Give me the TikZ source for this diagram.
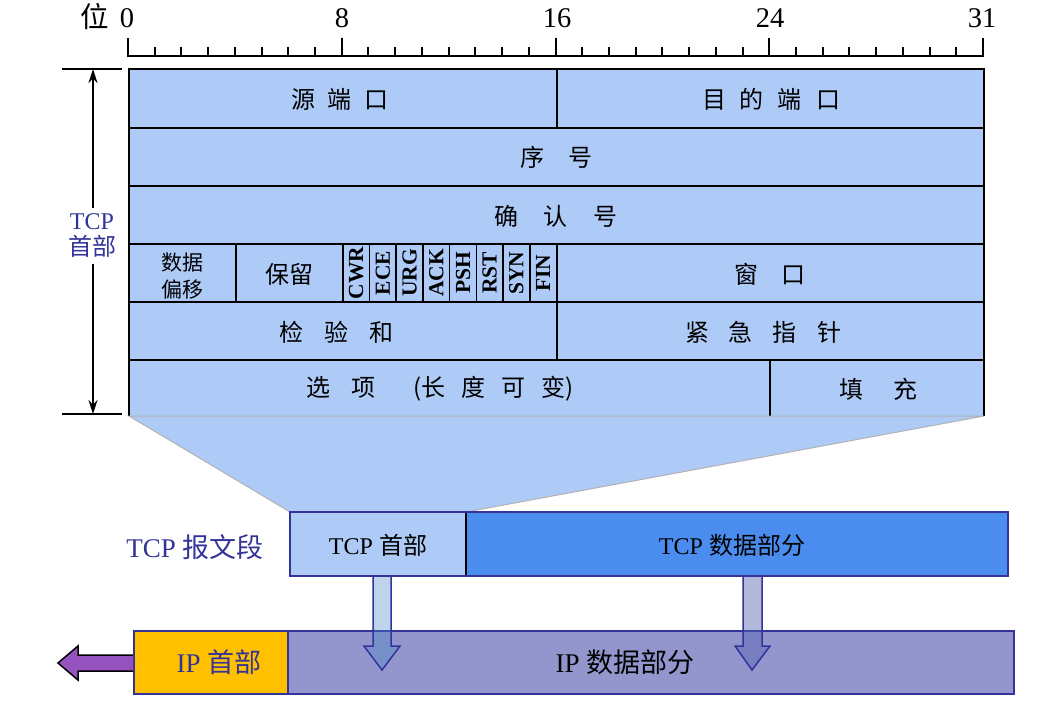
\documentclass[tikz,border=0pt]{standalone}
\usepackage{fontspec}
\setmainfont{Liberation Serif}
\newfontfamily\cjk{Noto Sans CJK SC}
\usetikzlibrary{arrows.meta}
\definecolor{hdr}{HTML}{AECBF7}
\definecolor{tdata}{HTML}{4A8DEE}
\definecolor{ipdata}{HTML}{9296CC}
\definecolor{iphdr}{HTML}{FFC000}
\definecolor{navy}{HTML}{333399}
\definecolor{purp}{HTML}{9553C0}
\definecolor{arrA}{RGB}{75,136,200}
\definecolor{arrB}{RGB}{84,98,178}
\newcommand\gp[1]{\hspace{#1pt}}
\begin{document}
\begin{tikzpicture}[x=1pt,y=-1pt,
  cn/.style={font=\cjk\fontsize{24}{28}\selectfont, inner sep=0pt},
  cnsm/.style={font=\cjk\fontsize{21}{27}\selectfont, inner sep=0pt, align=center},
  flag/.style={font=\bfseries\fontsize{21.5}{21.5}\selectfont, rotate=90, inner sep=0pt},
  num/.style={font=\fontsize{28.5}{28.5}\selectfont, inner sep=0pt, anchor=base},
  rul/.style={line width=2pt, line cap=rect},
  grid/.style={line width=2pt},
  thin/.style={line width=1.5pt},
  lbl/.style={font=\fontsize{27}{30}\selectfont, inner sep=0pt},
  mid/.style={font=\fontsize{24}{28}\selectfont, inner sep=0pt},
  box/.style={draw=navy, line width=2pt},
  blk/.style={draw=navy, line width=1.5pt, line join=miter}]
\useasboundingbox (0,0) rectangle (1045,724);
% ruler
\draw[rul] (128,56) -- (983,56);
\foreach \i in {0,...,32}{\draw[rul] ({128+\i*26.72},56) -- ({128+\i*26.72},48);}
\foreach \i in {0,8,16,24,32}{\draw[rul] ({128+\i*26.72},56) -- ({128+\i*26.72},39);}
\node[num] (wei) at (95,27) {\cjk 位};
\node[num] (n0) at (127,27) {0};
\node[num] (n8) at (342,27) {8};
\node[num] (n16) at (557,27) {16};
\node[num] (n24) at (770,27) {24};
\node[num] (n31) at (982,27) {31};
% table
\fill[hdr] (129,69) rectangle (984,416);
\foreach \yy in {128,186,244,302,360}{\draw[grid] (129,\yy) -- (984,\yy);}
\draw[grid] (556.5,69) -- (556.5,128);
\draw[grid] (235.9,244) -- (235.9,302);
\draw[grid] (342.8,244) -- (342.8,302);
\foreach \i in {9,...,15}{\draw[thin] ({129+\i*26.72},244) -- ({129+\i*26.72},302);}
\draw[grid] (556.5,244) -- (556.5,302);
\draw[grid] (556.5,302) -- (556.5,360);
\draw[grid] (770.3,360) -- (770.3,416);
\draw[line width=2.5pt] (129,416) -- (129,69) -- (984,69) -- (984,416);
% zoom trapezoid
\filldraw[fill=hdr, draw=gray!60, line width=1pt] (129,416) -- (984,416) -- (466,512) -- (290,512) -- cycle;
% field labels
\node[cn] (src) at (340,99) {源\gp{13}端\gp{13}口};
\node[cn] (dst) at (771,99) {目\gp{14}的\gp{14}端\gp{14}口};
\node[cn] (seq) at (556,157) {序\gp{24}号};
\node[cn] (ack) at (556,216) {确\gp{26}认\gp{26}号};
\node[cnsm] (off) at (182,276) {数据\\偏移};
\node[cn] (res) at (289,274) {保留};
\foreach \f [count=\k from 8] in {CWR,ECE,URG,ACK,PSH,RST,SYN,FIN}{
  \node[flag] (f\f) at ({129+\k*26.72+13.36},273) {\f};}
\node[cn] (win) at (770,274) {窗\gp{23}口};
\node[cn] (chk) at (336,332) {检\gp{21}验\gp{21}和};
\node[cn] (urg) at (763,332) {紧\gp{20}急\gp{20}指\gp{20}针};
\node[cn] (opt) at (440,389) {选\gp{21}项\gp{38}(长\gp{16}度\gp{16}可\gp{16}变)};
\node[cn] (pad) at (878,389) {填\gp{30}充};
% header dimension
\draw[line width=1.5pt] (62,69) -- (122,69);
\draw[line width=1.5pt] (62,414) -- (122,414);
\draw[line width=1.5pt, {Stealth[length=14pt,width=9pt]}-{Stealth[length=14pt,width=9pt]}] (93,69) -- (93,414);
\node[fill=white, text=navy, align=center, inner xsep=1pt, inner ysep=6pt, font=\fontsize{24}{26}\selectfont] (hdrlbl) at (92,236) {TCP\\{\cjk 首部}};
% TCP segment
\node[lbl, text=navy] (seglbl) at (195,547) {TCP {\cjk 报文段}};
\filldraw[box, fill=hdr] (290,512) rectangle (466,576);
\filldraw[box, fill=tdata] (466,512) rectangle (1008,576);
\draw[line width=2pt] (466,513) -- (466,575);
\node[mid] (tcph) at (378,545) {TCP {\cjk 首部}};
\node[mid] (tcpd) at (732,545) {TCP {\cjk 数据部分}};
% IP datagram
\filldraw[box, fill=iphdr] (134,631) rectangle (288,694);
\filldraw[box, fill=ipdata] (288,631) rectangle (1014,694);
\node[lbl, text=navy] (iph) at (219,662) {IP {\cjk 首部}};
\node[lbl] (ipd) at (625,662) {IP {\cjk 数据部分}};
% left arrow
\filldraw[fill=purp, draw=black, line width=1.5pt, line join=miter] (133,655) -- (78,655) -- (78,646) -- (58,663) -- (78,680) -- (78,671) -- (133,671);
% down arrows
\filldraw[blk, fill=arrA, fill opacity=0.36] (373,576) -- (373,646) -- (364,646) -- (382,670) -- (400,646) -- (391,646) -- (391,576) -- cycle;
\filldraw[blk, fill=arrB, fill opacity=0.45] (743,576) -- (743,646) -- (735,646) -- (752,670) -- (770,646) -- (762,646) -- (762,576) -- cycle;
\end{tikzpicture}
\end{document}
